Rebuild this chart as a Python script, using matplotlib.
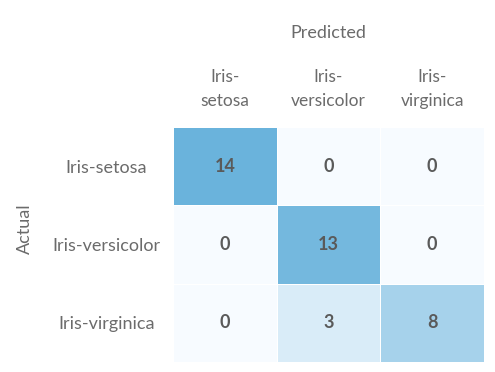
import matplotlib
matplotlib.use('Agg')
import matplotlib.pyplot as plt
import numpy as np
from matplotlib.colors import LinearSegmentedColormap


classes = ['Iris-setosa', 'Iris-versicolor', 'Iris-virginica']
col_labels = ['Iris-\nsetosa', 'Iris-\nversicolor', 'Iris-\nvirginica']
counts = np.array([[14, 0, 0],
                   [0, 13, 0],
                   [0, 3, 8]])

plt.rcParams['font.family'] = ['Lato', 'DejaVu Sans']
label_color = '#6b6b6b'

cmap = LinearSegmentedColormap.from_list('pale_blues', ['#f7fbff', '#6ab3dc'])

fig = plt.figure(figsize=(4.95, 3.72), dpi=100)
ax = fig.add_axes([0.3495, 0.027, 0.6283, 0.632])

n = len(classes)
ax.pcolormesh(np.arange(n + 1), np.arange(n + 1), counts, cmap=cmap,
              vmin=0, vmax=counts.max(), edgecolors='white', linewidth=0.6)
ax.set_xlim(0, n)
ax.set_ylim(n, 0)

for i in range(n):
    for j in range(n):
        ax.text(j + 0.5, i + 0.5, str(counts[i, j]), ha='center', va='center',
                fontsize=13, fontweight='bold', color='#5a5a5a')

ax.xaxis.tick_top()
ax.set_xticks(np.arange(n) + 0.5)
ax.set_xticklabels(col_labels, fontsize=12.5, color=label_color, linespacing=1.6)
ax.set_yticks(np.arange(n) + 0.5)
ax.set_yticklabels(classes, fontsize=13, color=label_color, ha='center')
ax.tick_params(length=0)
ax.tick_params(axis='x', pad=13)
ax.tick_params(axis='y', pad=48)
for s in ax.spines.values():
    s.set_visible(False)

fig.text(328.5 / 495, 1 - 33 / 372, 'Predicted', ha='center', va='center',
         fontsize=13, color=label_color)
fig.text(25 / 495, 1 - 229 / 372, 'Actual', ha='center', va='center',
         rotation=90, fontsize=13, color=label_color)

fig.savefig('out.png', dpi=100)
